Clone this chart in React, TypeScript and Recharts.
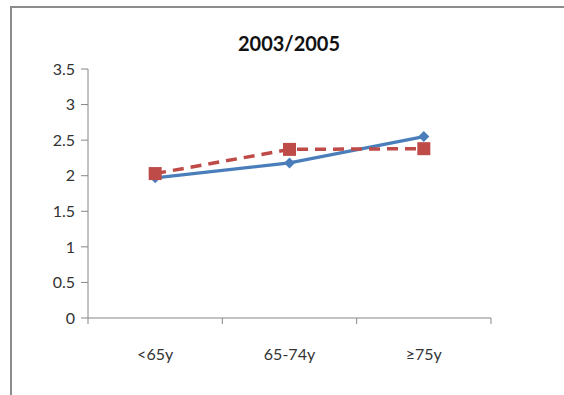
import React from "react"
import { LineChart, Line, XAxis, YAxis } from "recharts"

// ─── Data ──────────────────────────────────────────────────────────────────────

const ageGroups = ["<65y", "65-74y", "≥75y"]
const blueSeries = [1.97, 2.18, 2.55]
const redSeries = [2.03, 2.37, 2.38]
const yTicks = [0, 0.5, 1, 1.5, 2, 2.5, 3, 3.5]

const rows = ageGroups.map((group, i) => ({
  group,
  blue: blueSeries[i],
  red: redSeries[i],
}))

const BLUE = "#4a7ebb"
const RED = "#be4b48"
const AXIS = "#868686"
const FONT = "Lato, 'Open Sans', sans-serif"

// ─── Markers ───────────────────────────────────────────────────────────────────

function Diamond({ cx, cy }: { cx?: number; cy?: number }) {
  if (cx == null || cy == null) return null
  const r = 5.5
  return (
    <polygon
      points={`${cx},${cy - r} ${cx + r},${cy} ${cx},${cy + r} ${cx - r},${cy}`}
      fill={BLUE}
    />
  )
}

function Square({ cx, cy }: { cx?: number; cy?: number }) {
  if (cx == null || cy == null) return null
  const s = 13
  return <rect x={cx - s / 2} y={cy - s / 2} width={s} height={s} fill={RED} />
}

// Category label at the band centre, tick marks on the band edges
function BandTick(props: any) {
  const { x, y, payload, index } = props
  const half = payload?.offset ?? 67
  const axisY = y - 8
  return (
    <g>
      <line x1={x - half} y1={axisY} x2={x - half} y2={axisY + 6} stroke={AXIS} />
      {index === ageGroups.length - 1 && (
        <line x1={x + half} y1={axisY} x2={x + half} y2={axisY + 6} stroke={AXIS} />
      )}
      <text
        x={x}
        y={y + 34}
        textAnchor="middle"
        fill="#333"
        fontSize={16}
        fontFamily={FONT}
      >
        {payload.value}
      </text>
    </g>
  )
}

export default function App() {
  return (
    <div
      style={{
        position: "absolute",
        left: 0,
        top: 0,
        width: 564,
        height: 395,
        background: "#fff",
        overflow: "hidden",
      }}
    >
      {/* frame */}
      <div
        style={{
          position: "absolute",
          left: 10,
          top: 6,
          width: 560,
          height: 400,
          borderTop: "2px solid #8c8c8c",
          borderLeft: "2px solid #8c8c8c",
        }}
      />
      <div
        style={{
          position: "absolute",
          left: 0,
          width: 564,
          top: 31,
          textAlign: "center",
          fontFamily: FONT,
          fontWeight: 700,
          fontSize: 20,
          color: "#111",
          paddingLeft: 14,
          boxSizing: "border-box",
        }}
      >
        2003/2005
      </div>
      <div style={{ position: "absolute", left: 0, top: 0 }}>
        <LineChart
          width={564}
          height={395}
          data={rows}
          margin={{ top: 69, right: 73, left: 0, bottom: 37 }}
        >
          <XAxis
            dataKey="group"
            scale="band"
            height={40}
            axisLine={{ stroke: AXIS }}
            tickLine={false}
            tick={<BandTick />}
            interval={0}
          />
          <YAxis
            width={88}
            domain={[0, 3.5]}
            ticks={yTicks}
            axisLine={{ stroke: AXIS }}
            tickLine={{ stroke: AXIS }}
            tickSize={7}
            tick={{ fill: "#333", fontSize: 16, fontFamily: FONT }}
            tickMargin={6}
          />
          <Line
            dataKey="blue"
            stroke={BLUE}
            strokeWidth={3.2}
            dot={<Diamond />}
            activeDot={false}
            isAnimationActive={false}
          />
          <Line
            dataKey="red"
            stroke={RED}
            strokeWidth={3.5}
            strokeDasharray="11 7"
            dot={<Square />}
            activeDot={false}
            isAnimationActive={false}
          />
        </LineChart>
      </div>
    </div>
  )
}
